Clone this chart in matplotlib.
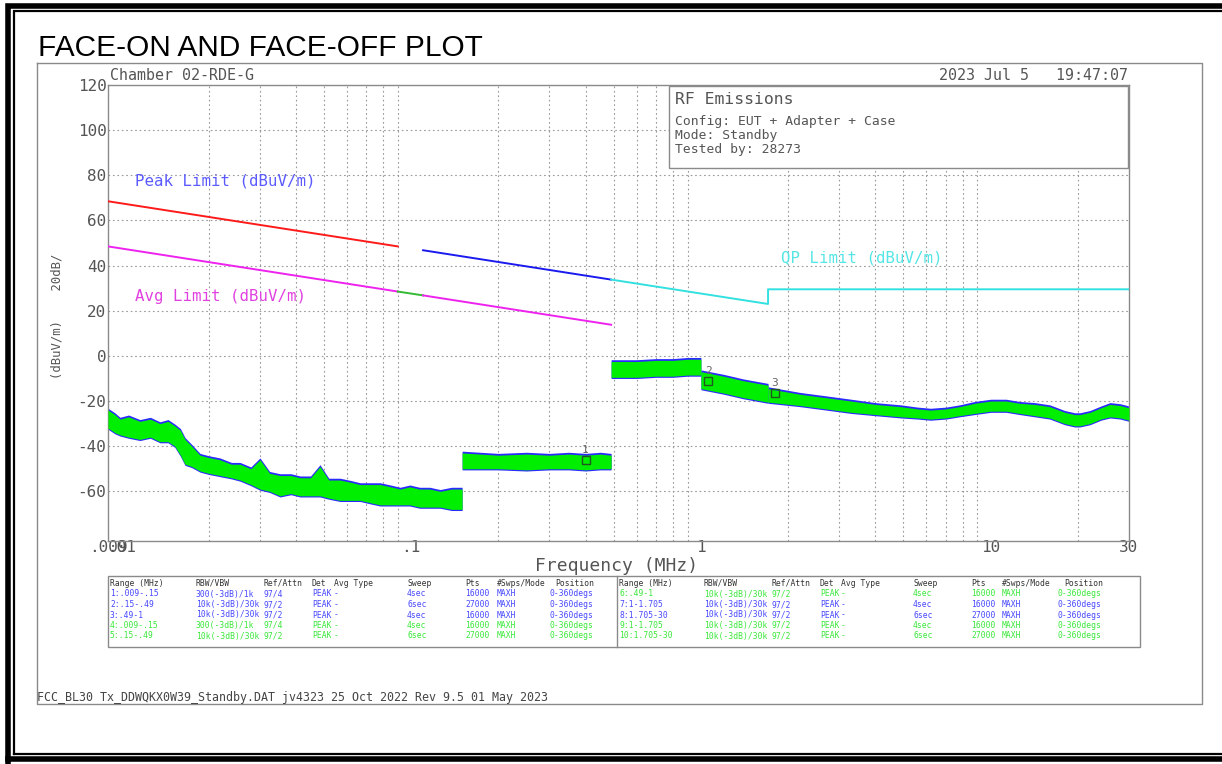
import matplotlib
matplotlib.use("Agg")
import matplotlib.pyplot as plt
from matplotlib.lines import Line2D
from matplotlib.patches import Rectangle

plt.rcParams['font.family'] = ['DejaVu Sans Mono']

W, H = 1222, 764

# ---------------- data ----------------
# Segment 1: 0.009-0.15 MHz (noisy low-frequency trace), band envelope
seg1_f = [0.009, 0.0095, 0.0099, 0.0106, 0.0116, 0.0126, 0.0136, 0.0145, 0.0153, 0.0160, 0.0166,
          0.0175, 0.0187, 0.0200, 0.0219, 0.0240, 0.0257, 0.0280, 0.0301, 0.0325, 0.0353,
          0.0385, 0.0414, 0.0450, 0.0485, 0.0520, 0.0569, 0.0620, 0.0667, 0.0720, 0.0782,
          0.0850, 0.0917, 0.0990, 0.107, 0.116, 0.126, 0.138, 0.150]
seg1_hi = [-24, -26, -28, -27, -29, -28, -30, -29, -31, -33, -37,
           -40, -44, -45, -46, -48, -48, -50, -46, -52, -53,
           -53, -54, -54, -49, -55, -55, -56, -57, -57, -57,
           -58, -59, -58, -59, -59, -60, -59, -59]
seg1_lo = [-32, -34, -35, -36, -37, -36, -38, -38, -40, -44, -48,
           -49, -51, -52, -53, -54, -55, -57, -59, -60, -62,
           -61, -62, -62, -62, -63, -64, -64, -64, -65, -66,
           -66, -66, -66, -67, -67, -67, -68, -68]

# Segment 2: 0.15-0.49 MHz
seg2_f = [0.15, 0.20, 0.25, 0.30, 0.35, 0.40, 0.45, 0.49]
seg2_hi = [-43, -44, -43.5, -44, -43.5, -44, -43.5, -44]
seg2_lo = [-50, -50, -50.5, -50, -50, -50.5, -50, -50]

# Segment 3: 0.49-1 MHz
seg3_f = [0.49, 0.60, 0.70, 0.80, 0.90, 1.0]
seg3_hi = [-2.5, -2.5, -2.0, -2.0, -1.5, -1.5]
seg3_lo = [-9.5, -9.5, -9.0, -9.0, -8.5, -8.5]

# Segment 4: 1-1.705 MHz
seg4_f = [1.0, 1.2, 1.4, 1.705]
seg4_hi = [-7.0, -9.0, -11.0, -13.0]
seg4_lo = [-14.5, -16.5, -18.5, -20.5]

# Segment 5: 1.705-30 MHz
seg5_f = [1.705, 2.2, 2.7, 3.3, 4.0, 4.9, 5.6, 6.2, 7.0, 7.8, 8.8, 10.0, 11.3, 12.6,
          14.2, 16.0, 18.0, 19.5, 20.3, 22.0, 24.0, 25.8, 28.0, 30.0]
seg5_hi = [-14.5, -17.0, -18.5, -20.0, -21.5, -22.5, -23.5, -24.0, -23.5, -22.5, -21.0, -20.0,
           -20.0, -21.0, -21.5, -22.5, -25.0, -26.0, -26.0, -25.0, -23.0, -21.5, -22.0, -23.0]
seg5_lo = [-20.5, -22.0, -23.5, -25.0, -26.0, -27.0, -27.5, -28.0, -27.5, -26.5, -25.5, -24.5,
           -24.5, -25.5, -26.5, -27.5, -30.0, -31.0, -31.0, -30.0, -28.0, -27.0, -27.5, -28.5]

segments = [(seg1_f, seg1_lo, seg1_hi), (seg2_f, seg2_lo, seg2_hi), (seg3_f, seg3_lo, seg3_hi),
            (seg4_f, seg4_lo, seg4_hi), (seg5_f, seg5_lo, seg5_hi)]

# Limit lines (dBuV/m)
peak_red_f = [0.009, 0.09]
peak_red_v = [68.5, 48.5]
peak_blue_f = [0.11, 0.49]
peak_blue_v = [46.8, 33.8]
avg_a_f = [0.009, 0.09]
avg_a_v = [48.5, 28.5]
avg_gap_f = [0.09, 0.11]
avg_gap_v = [28.5, 26.8]
avg_b_f = [0.11, 0.49]
avg_b_v = [26.8, 13.8]
qp_f = [0.49, 1.705, 1.705, 30.0]
qp_v = [33.8, 23.0, 29.5, 29.5]

# Markers
mk_f = [0.40, 1.06, 1.80]
mk_v = [-46.0, -11.0, -16.5]
mk_lbl = ['1', '2', '3']

# Axis ticks
xtick_vals = [0.009, 0.01, 0.1, 1, 10, 30]
xtick_lbls = ['.009', '.01', '.1', '1', '10', '30']
ytick_vals = [120, 100, 80, 60, 40, 20, 0, -20, -40, -60]
xgrid_vals = [m * d for d in (0.01, 0.1, 1) for m in range(1, 10)] + [10, 20, 30]

# Table
tbl_header = ['Range (MHz)', 'RBW/VBW', 'Ref/Attn', 'Det', 'Avg Type', 'Sweep', 'Pts', '#Swps/Mode', 'Position']
tbl_left = [
    ['1:.009-.15', '300(-3dB)/1k', '97/4', 'PEAK', '-', '4sec', '16000', 'MAXH', '0-360degs'],
    ['2:.15-.49', '10k(-3dB)/30k', '97/2', 'PEAK', '-', '6sec', '27000', 'MAXH', '0-360degs'],
    ['3:.49-1', '10k(-3dB)/30k', '97/2', 'PEAK', '-', '4sec', '16000', 'MAXH', '0-360degs'],
    ['4:.009-.15', '300(-3dB)/1k', '97/4', 'PEAK', '-', '4sec', '16000', 'MAXH', '0-360degs'],
    ['5:.15-.49', '10k(-3dB)/30k', '97/2', 'PEAK', '-', '6sec', '27000', 'MAXH', '0-360degs'],
]
tbl_right = [
    ['6:.49-1', '10k(-3dB)/30k', '97/2', 'PEAK', '-', '4sec', '16000', 'MAXH', '0-360degs'],
    ['7:1-1.705', '10k(-3dB)/30k', '97/2', 'PEAK', '-', '4sec', '16000', 'MAXH', '0-360degs'],
    ['8:1.705-30', '10k(-3dB)/30k', '97/2', 'PEAK', '-', '6sec', '27000', 'MAXH', '0-360degs'],
    ['9:1-1.705', '10k(-3dB)/30k', '97/2', 'PEAK', '-', '4sec', '16000', 'MAXH', '0-360degs'],
    ['10:1.705-30', '10k(-3dB)/30k', '97/2', 'PEAK', '-', '6sec', '27000', 'MAXH', '0-360degs'],
]
tbl_left_colors = ['b', 'b', 'b', 'g', 'g']
tbl_right_colors = ['g', 'b', 'b', 'g', 'g']

# ---------------- styling ----------------
BLUE = '#2a2aff'
GREEN = '#00ee00'
TXT_BLUE = '#4848ff'
TXT_GREEN = '#3ae83a'
GRAY = '#555555'
FRAME = '#8a8a8a'


def fx(x):
    return x / W


def fy(y):
    return 1 - y / H


fig = plt.figure(figsize=(W / 100, H / 100), dpi=100)
fig.patch.set_facecolor('white')

ax = fig.add_axes([fx(108), fy(541), (1129 - 108) / W, (541 - 85) / H])
ax.set_xscale('log')
ax.set_xlim(0.009, 30)
ax.set_ylim(-82, 120)

ax.set_xticks(xtick_vals)
ax.set_xticklabels(xtick_lbls)
ax.set_xticks(xgrid_vals, minor=True)
ax.set_xticklabels([], minor=True)
ax.set_yticks(ytick_vals)
ax.set_yticklabels([str(v) for v in ytick_vals])
ax.tick_params(which='both', length=0, labelcolor=GRAY, labelsize=11.5)
ax.tick_params(axis='y', pad=1)
ax.tick_params(axis='x', pad=-1)
for s in ax.spines.values():
    s.set_color(FRAME)
    s.set_linewidth(1.0)

ax.grid(which='minor', axis='x', linestyle=(0, (1.5, 2.5)), color='#9a9a9a', linewidth=0.8)
ax.grid(which='major', axis='y', linestyle=(0, (1.5, 2.5)), color='#9a9a9a', linewidth=0.8)
ax.set_axisbelow(True)

# traces
for f, lo, hi in segments:
    ax.fill_between(f, [v - 0.5 for v in lo], [v + 0.8 for v in hi], color=BLUE, linewidth=0, zorder=2)
    ax.fill_between(f, lo, hi, color=GREEN, linewidth=0, zorder=3)

# limits
ax.plot(peak_red_f, peak_red_v, color='#ff1a1a', lw=1.4, zorder=4)
ax.plot(peak_blue_f, peak_blue_v, color='#1a1aee', lw=1.4, zorder=4)
ax.plot(avg_a_f, avg_a_v, color='#ee22ee', lw=1.4, zorder=4)
ax.plot(avg_gap_f, avg_gap_v, color='#33bb33', lw=1.4, zorder=4)
ax.plot(avg_b_f, avg_b_v, color='#ee22ee', lw=1.4, zorder=4)
ax.plot(qp_f, qp_v, color='#33e0e0', lw=1.4, zorder=4)

# markers
ax.plot(mk_f, mk_v, linestyle='none', marker='s', markersize=6, markerfacecolor='none',
        markeredgecolor='#225522', markeredgewidth=1.0, zorder=5)
for f, v, l in zip(mk_f, mk_v, mk_lbl):
    ax.text(f, v + 4.5, l, color='#666666', fontsize=8, ha='center', va='center', zorder=5)

# limit labels
fig.text(fx(135), fy(181), 'Peak Limit (dBuV/m)', color='#5a5aff', fontsize=11.3, va='center')
fig.text(fx(135), fy(296), 'Avg Limit (dBuV/m)', color='#e040e0', fontsize=11.3, va='center')
fig.text(fx(781), fy(258), 'QP Limit (dBuV/m)', color='#55e5e5', fontsize=11.3, va='center')

# axis labels
fig.text(fx(617), fy(566), 'Frequency (MHz)', color=GRAY, fontsize=13, ha='center', va='center')
fig.text(fx(57), fy(316), '(dBuV/m)    20dB/', color=GRAY, fontsize=8.8, rotation=90,
         ha='center', va='center')

# header texts
fig.text(fx(38), fy(48), 'FACE-ON AND FACE-OFF PLOT', family='Liberation Sans', fontsize=21.5,
         color='black', va='center')
fig.text(fx(110), fy(75), 'Chamber 02-RDE-G', color=GRAY, fontsize=10.8, va='center')
fig.text(fx(1128), fy(75), '2023 Jul 5   19:47:07', color=GRAY, fontsize=10.8, va='center', ha='right')

# info box
fig.patches.append(Rectangle((fx(669), fy(168)), (1128 - 669) / W, (168 - 86) / H,
                             transform=fig.transFigure, facecolor='white', edgecolor=FRAME,
                             linewidth=1.0, zorder=5))
fig.text(fx(675), fy(100), 'RF Emissions', color=GRAY, fontsize=11.8, va='center', zorder=6)
fig.text(fx(675), fy(122), 'Config: EUT + Adapter + Case', color=GRAY, fontsize=9.4, va='center', zorder=6)
fig.text(fx(675), fy(136), 'Mode: Standby', color=GRAY, fontsize=9.4, va='center', zorder=6)
fig.text(fx(675), fy(150), 'Tested by: 28273', color=GRAY, fontsize=9.4, va='center', zorder=6)

# table
fig.patches.append(Rectangle((fx(108), fy(647)), (1140 - 108) / W, (647 - 576) / H,
                             transform=fig.transFigure, facecolor='white', edgecolor=FRAME,
                             linewidth=1.0, zorder=5))
fig.add_artist(Line2D([fx(617), fx(617)], [fy(576), fy(647)], color=FRAME, lw=1.0, zorder=6))
cols_left = [110, 196, 263, 312, 334, 407, 465, 497, 549]
cols_right = [619, 704, 771, 820, 841, 913, 971, 1002, 1057]
hdr_left_pos = list(cols_left)
hdr_left_pos[8] = 555
hdr_right_pos = list(cols_right)
hdr_right_pos[8] = 1064
row_y = [594, 604.5, 615, 625.5, 636]
TFS = 5.8
for hp, cols, rows, colors in ((hdr_left_pos, cols_left, tbl_left, tbl_left_colors),
                               (hdr_right_pos, cols_right, tbl_right, tbl_right_colors)):
    for x, h in zip(hp, tbl_header):
        fig.text(fx(x), fy(583), h, color='#333333', fontsize=TFS, va='center', zorder=6)
    for r, c, y in zip(rows, colors, row_y):
        col = TXT_BLUE if c == 'b' else TXT_GREEN
        for x, t in zip(cols, r):
            fig.text(fx(x), fy(y), t, color=col, fontsize=TFS, va='center', zorder=6)

# footer
fig.text(fx(37), fy(697), 'FCC_BL30 Tx_DDWQKX0W39_Standby.DAT jv4323 25 Oct 2022 Rev 9.5 01 May 2023',
         color='#444444', fontsize=8.4, va='center')

# chart outer gray box
fig.add_artist(Line2D([fx(37), fx(1202), fx(1202), fx(37), fx(37)],
                      [fy(63), fy(63), fy(704), fy(704), fy(63)], color=FRAME, lw=1.0))

# page border (double black)
fig.add_artist(Line2D([fx(8), fx(8), fx(W)], [fy(H), fy(5.5), fy(5.5)], color='black', lw=4.0,
                      solid_joinstyle='miter'))
fig.add_artist(Line2D([fx(8), fx(W)], [fy(759), fy(759)], color='black', lw=4.0))
fig.add_artist(Line2D([fx(14), fx(14), fx(W)], [fy(754), fy(11), fy(11)], color='black', lw=1.6,
                      solid_joinstyle='miter'))
fig.add_artist(Line2D([fx(14), fx(W)], [fy(754), fy(754)], color='black', lw=1.6))

fig.savefig('out.png', dpi=100, facecolor='white')
